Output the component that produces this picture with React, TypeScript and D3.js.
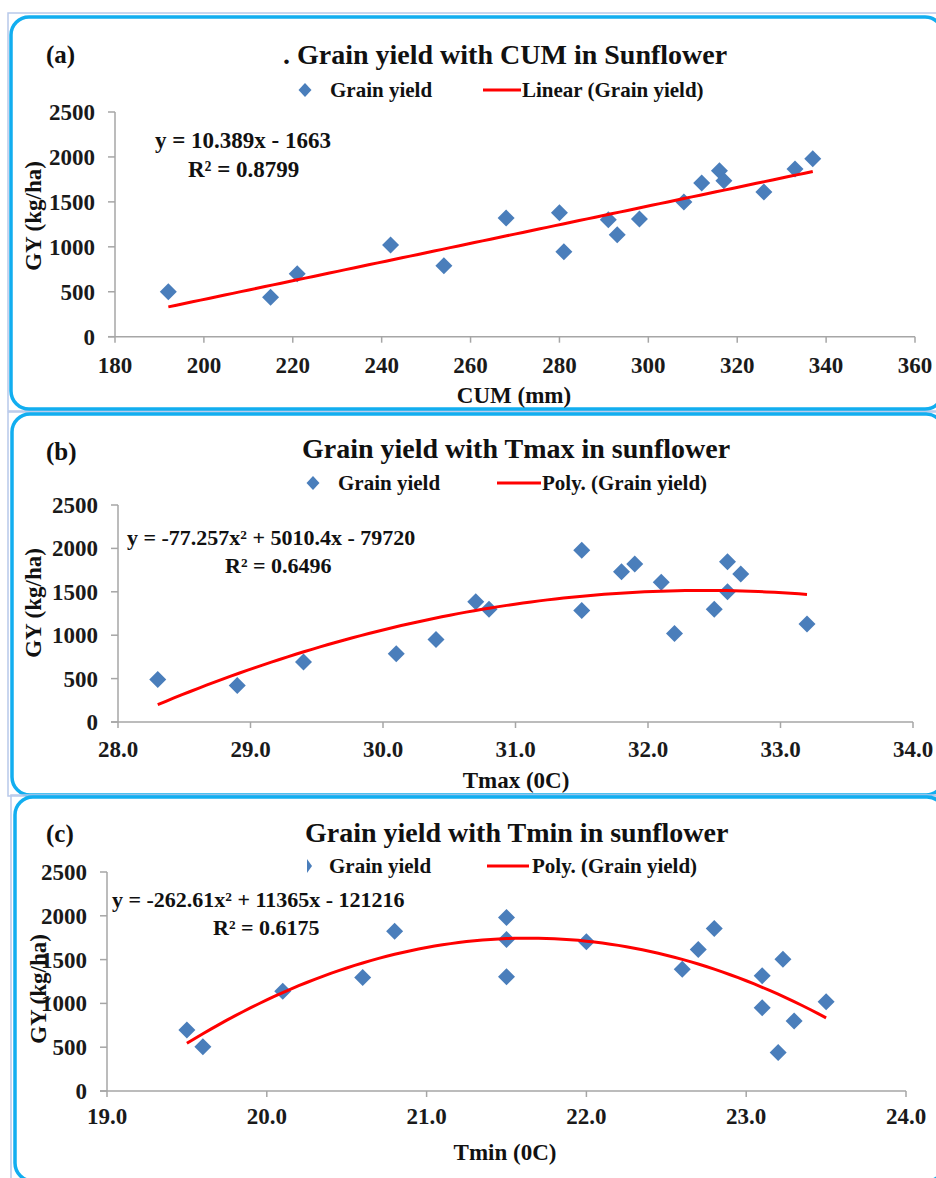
import React from "react";
import * as d3 from "d3";

// ---------- data ----------
const cumX = [192, 215, 221, 242, 254, 268, 280, 281, 291, 293, 298, 308, 312, 316, 317, 326, 333, 337];
const cumY = [500, 440, 700, 1020, 790, 1320, 1380, 945, 1300, 1135, 1310, 1500, 1710, 1845, 1735, 1610, 1865, 1980];

const tmaxX = [28.3, 28.9, 29.4, 30.1, 30.4, 30.7, 30.8, 31.5, 31.5, 31.8, 31.9, 32.1, 32.2, 32.5, 32.6, 32.6, 32.7, 33.2];
const tmaxY = [490, 420, 690, 785, 950, 1385, 1300, 1980, 1285, 1730, 1820, 1610, 1020, 1300, 1845, 1500, 1705, 1130];

const tminX = [19.5, 19.6, 20.1, 20.6, 20.8, 21.5, 21.5, 21.5, 22.0, 22.6, 22.7, 22.8, 23.1, 23.1, 23.2, 23.23, 23.3, 23.5];
const tminY = [695, 505, 1140, 1295, 1825, 1980, 1730, 1305, 1705, 1390, 1615, 1855, 1315, 950, 440, 1505, 800, 1020];

const yTicks = [0, 500, 1000, 1500, 2000, 2500];
const cumTicks = [180, 200, 220, 240, 260, 280, 300, 320, 340, 360];
const tmaxTicks = [28, 29, 30, 31, 32, 33, 34];
const tminTicks = [19, 20, 21, 22, 23, 24];

// trendline coefficients (highest power first), as printed on the charts
const cumFit = [10.389, -1663];
const tmaxFit = [-77.257, 5010.4, -79720];
const tminFit = [-262.61, 11365, -121216];

const FONT = '"Liberation Serif", "DejaVu Serif", "Times New Roman", Times, serif';
const BLUE_PT = "#4a7ebb";
const RED = "#ff0000";
const FRAME = "#12aef0";
const LAV = "#b8c9ea";
const AXIS = "#a6a6a6";

function polyEval(c: number[], x: number) {
  return c.reduce((acc, k) => acc * x + k, 0);
}

type PanelProps = {
  lav: [number, number, number, number];
  blue: [number, number, number, number];
  xs: number[];
  ys: number[];
  fit: number[];
  xDomain: [number, number];
  xRange: [number, number];
  yRange: [number, number];
  xTicks: number[];
  xFmt: (v: number) => string;
  tag: string;
  tagPos: [number, number];
  title: string;
  titlePos: [number, number];
  legendY: number;
  legDiamondX: number;
  legText1X: number;
  legLine: [number, number];
  legText2X: number;
  legText2: string;
  narrowLegendMarker?: boolean;
  eq1: string;
  eq1Pos: [number, number];
  eq2: string;
  eq2Pos: [number, number];
  eqSize: number;
  yLabelPos: [number, number];
  xLabel: string;
  xLabelPos: [number, number];
  xTickBaseline: number;
};

function diamond(cx: number, cy: number, hw: number, hh: number) {
  return `M${cx},${cy - hh}L${cx + hw},${cy}L${cx},${cy + hh}L${cx - hw},${cy}Z`;
}

const txt = (size: number): React.CSSProperties => ({
  fontFamily: FONT,
  fontWeight: 700,
  fontSize: size,
});

function Panel(p: PanelProps) {
  const x = d3.scaleLinear().domain(p.xDomain).range(p.xRange);
  const y = d3.scaleLinear().domain([0, 2500]).range(p.yRange);
  const x0 = d3.min(p.xs)!;
  const x1 = d3.max(p.xs)!;
  const samples = d3.range(0, 81).map((i) => x0 + ((x1 - x0) * i) / 80);
  const line = d3
    .line<number>()
    .x((v) => x(v))
    .y((v) => y(polyEval(p.fit, v)));
  const axX = p.xRange[0];
  const yBase = p.yRange[0];
  const yTop = p.yRange[1];
  return (
    <g>
      <rect x={p.lav[0]} y={p.lav[1]} width={p.lav[2]} height={p.lav[3]} fill="none" stroke={LAV} strokeWidth={1.5} />
      <rect x={p.blue[0]} y={p.blue[1]} width={p.blue[2]} height={p.blue[3]} rx={18} ry={18} fill="#fff" stroke={FRAME} strokeWidth={3.5} />
      {/* axes */}
      <line x1={axX} x2={axX} y1={yTop} y2={yBase} stroke={AXIS} strokeWidth={1.5} />
      <line x1={axX - 7} x2={p.xRange[1]} y1={yBase} y2={yBase} stroke={AXIS} strokeWidth={1.5} />
      {yTicks.map((t) => (
        <g key={"yt" + t}>
          <line x1={axX - 7} x2={axX} y1={y(t)} y2={y(t)} stroke={AXIS} strokeWidth={1.5} />
          <text x={axX - 20} y={y(t)} dy="0.35em" textAnchor="end" style={txt(23)} fill="#1a1a1a">
            {t}
          </text>
        </g>
      ))}
      {p.xTicks.map((t) => (
        <g key={"xt" + t}>
          <line x1={x(t)} x2={x(t)} y1={yBase} y2={yBase + 6} stroke={AXIS} strokeWidth={1.5} />
          <text x={x(t)} y={p.xTickBaseline} textAnchor="middle" style={txt(23)} fill="#1a1a1a">
            {p.xFmt(t)}
          </text>
        </g>
      ))}
      {/* points */}
      {p.xs.map((v, i) => (
        <path key={"pt" + i} d={diamond(x(v), y(p.ys[i]), 8.5, 8.5)} fill={BLUE_PT} />
      ))}
      {/* trendline */}
      <path d={line(samples) || ""} fill="none" stroke={RED} strokeWidth={3} />
      {/* texts */}
      <text x={p.tagPos[0]} y={p.tagPos[1]} style={txt(25)} fill="#111">
        {p.tag}
      </text>
      <text x={p.titlePos[0]} y={p.titlePos[1]} style={txt(28)} fill="#111">
        {p.title}
      </text>
      {p.narrowLegendMarker ? (
        <path d={`M${p.legDiamondX - 2},${p.legendY - 7}L${p.legDiamondX + 3},${p.legendY}L${p.legDiamondX - 2},${p.legendY + 7}Z`} fill={BLUE_PT} />
      ) : (
        <path d={diamond(p.legDiamondX, p.legendY, 6.5, 7)} fill={BLUE_PT} />
      )}
      <text x={p.legText1X} y={p.legendY} dy="0.35em" style={txt(21)} fill="#111">
        Grain yield
      </text>
      <line x1={p.legLine[0]} x2={p.legLine[1]} y1={p.legendY} y2={p.legendY} stroke={RED} strokeWidth={3} />
      <text x={p.legText2X} y={p.legendY} dy="0.35em" style={txt(21)} fill="#111">
        {p.legText2}
      </text>
      <text x={p.eq1Pos[0]} y={p.eq1Pos[1]} style={txt(p.eqSize)} fill="#111">
        {p.eq1}
      </text>
      <text x={p.eq2Pos[0]} y={p.eq2Pos[1]} style={txt(p.eqSize)} fill="#111">
        {p.eq2}
      </text>
      <text
        transform={`translate(${p.yLabelPos[0]},${p.yLabelPos[1]}) rotate(-90)`}
        textAnchor="middle"
        dy="0.35em"
        style={txt(23)}
        fill="#111"
      >
        GY (kg/ha)
      </text>
      <text x={p.xLabelPos[0]} y={p.xLabelPos[1]} textAnchor="middle" style={txt(23)} fill="#111">
        {p.xLabel}
      </text>
    </g>
  );
}

export default function App() {
  return (
    <svg
      width={936}
      height={1178}
      viewBox="0 0 936 1178"
      style={{ position: "absolute", left: 0, top: 0, background: "#fff" }}
    >
      <rect x={0} y={0} width={936} height={1178} fill="#fff" />
      <Panel
        lav={[8, 13, 940, 398]}
        blue={[11, 17, 932, 392]}
        xs={cumX}
        ys={cumY}
        fit={cumFit}
        xDomain={[180, 360]}
        xRange={[115, 915]}
        yRange={[336.7, 112]}
        xTicks={cumTicks}
        xFmt={(v) => String(v)}
        tag="(a)"
        tagPos={[46, 63]}
        title=". Grain yield with CUM in Sunflower"
        titlePos={[283, 64]}
        legendY={90}
        legDiamondX={305}
        legText1X={330}
        legLine={[483, 521]}
        legText2X={522}
        legText2="Linear (Grain yield)"
        eq1="y = 10.389x - 1663"
        eq1Pos={[155, 148]}
        eq2="R² = 0.8799"
        eq2Pos={[188, 177]}
        eqSize={23}
        yLabelPos={[33, 216]}
        xLabel="CUM (mm)"
        xLabelPos={[514, 403]}
        xTickBaseline={373}
      />
      <Panel
        lav={[8, 412, 940, 384]}
        blue={[12, 414, 932, 381]}
        xs={tmaxX}
        ys={tmaxY}
        fit={tmaxFit}
        xDomain={[28, 34]}
        xRange={[118, 913]}
        yRange={[722, 505]}
        xTicks={tmaxTicks}
        xFmt={(v) => v.toFixed(1)}
        tag="(b)"
        tagPos={[46, 460]}
        title="Grain yield with Tmax in sunflower"
        titlePos={[302, 458]}
        legendY={483}
        legDiamondX={313}
        legText1X={338}
        legLine={[497, 541]}
        legText2X={542}
        legText2="Poly. (Grain yield)"
        eq1="y = -77.257x² + 5010.4x - 79720"
        eq1Pos={[127, 545]}
        eq2="R² = 0.6496"
        eq2Pos={[225, 573]}
        eqSize={22}
        yLabelPos={[33, 603]}
        xLabel="Tmax (0C)"
        xLabelPos={[516, 788]}
        xTickBaseline={757}
      />
      <Panel
        lav={[11, 795, 940, 400]}
        blue={[15, 797, 930, 384]}
        xs={tminX}
        ys={tminY}
        fit={tminFit}
        xDomain={[19, 24]}
        xRange={[107, 906]}
        yRange={[1091, 872]}
        xTicks={tminTicks}
        xFmt={(v) => v.toFixed(1)}
        tag="(c)"
        tagPos={[46, 842]}
        title="Grain yield with Tmin in sunflower"
        titlePos={[305, 842]}
        legendY={866}
        legDiamondX={309}
        legText1X={329}
        legLine={[487, 529]}
        legText2X={532}
        legText2="Poly. (Grain yield)"
        narrowLegendMarker
        eq1="y = -262.61x² + 11365x - 121216"
        eq1Pos={[112, 907]}
        eq2="R² = 0.6175"
        eq2Pos={[213, 935]}
        eqSize={22}
        yLabelPos={[38, 989]}
        xLabel="Tmin (0C)"
        xLabelPos={[505, 1160]}
        xTickBaseline={1124}
      />
    </svg>
  );
}
